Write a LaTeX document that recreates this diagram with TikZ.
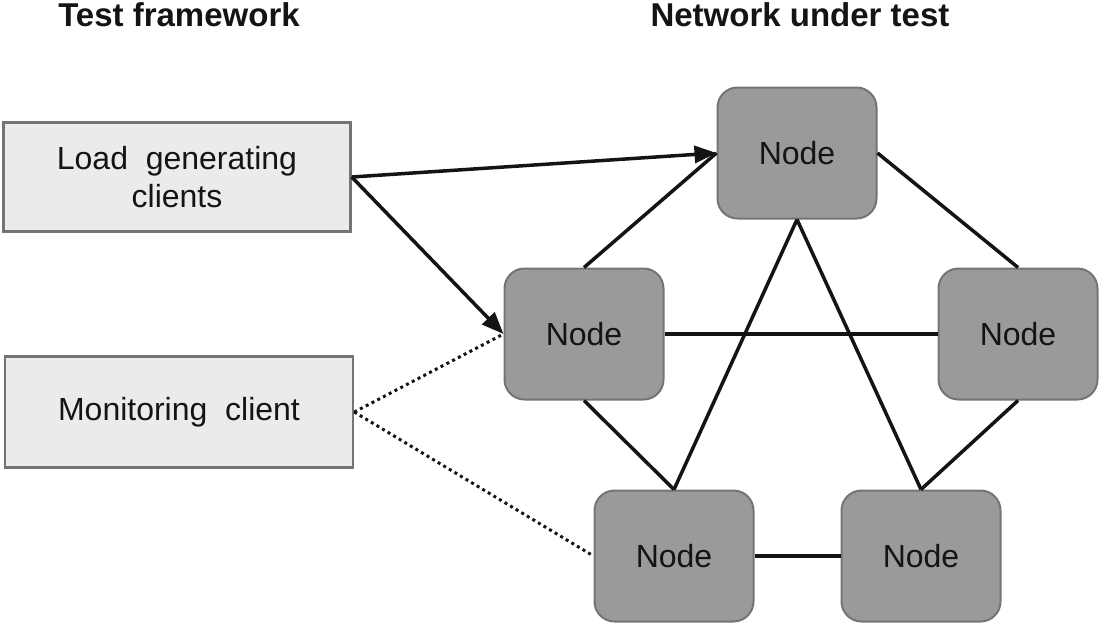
\documentclass[tikz,border=0pt]{standalone}
\usepackage{fontspec}
\setmainfont{Liberation Sans}
\usetikzlibrary{arrows.meta}
\definecolor{boxfill}{HTML}{EBEBEB}
\definecolor{nodefill}{HTML}{9A9A9A}
\definecolor{edgegray}{HTML}{747474}
\definecolor{inkc}{HTML}{141414}
\begin{document}
\begin{tikzpicture}[x=1pt,y=-1pt,
  client/.style={draw=edgegray,line width=2.5pt,fill=boxfill,rectangle,inner sep=0pt,
    align=center,font=\fontsize{32}{38}\selectfont,text=inkc},
  netnode/.style={draw=edgegray,line width=2pt,fill=nodefill,rectangle,rounded corners=20pt,
    inner sep=0pt,minimum width=159pt,minimum height=131pt,font=\fontsize{32}{38}\selectfont,text=inkc},
  title/.style={font=\bfseries\fontsize{33}{38}\selectfont,text=inkc,inner sep=0pt},
  link/.style={draw=inkc,line width=3.5pt},
  arrowlink/.style={link,-{Triangle[length=22pt,width=17pt]}},
  dotlink/.style={draw=inkc,line width=3pt,dash pattern=on 3pt off 3.5pt}
]
\useasboundingbox (0,0) rectangle (1099,624);
\node[title] (t1) at (179,15) {Test framework};
\node[title] (t2) at (800,15) {Network under test};

\node[client,minimum width=347pt,minimum height=109pt] (load) at (177,177) {Load\ \ generating\\clients};
\node[client,minimum width=348pt,minimum height=111pt] (mon) at (179,412) {Monitoring\ \ client};

\node[netnode] (top) at (797,153) {Node};
\node[netnode] (left) at (584,334) {Node};
\node[netnode] (right) at (1018,334) {Node};
\node[netnode] (bl) at (674,556) {Node};
\node[netnode] (br) at (921,556) {Node};

\draw[arrowlink] (load.east) -- (top.west);
\draw[arrowlink] (load.east) -- (left.west);
\draw[dotlink] (mon.east) -- (left.west);
\draw[dotlink] (mon.east) -- (bl.west);

\draw[link] (left.north) -- (top.west);
\draw[link] (top.east) -- (right.north);
\draw[link] (left.east) -- (right.west);
\draw[link] (top.south) -- (bl.north);
\draw[link] (top.south) -- (br.north);
\draw[link] (left.south) -- (bl.north);
\draw[link] (right.south) -- (br.north);
\draw[link] (bl.east) -- (br.west);
\end{tikzpicture}
\end{document}
